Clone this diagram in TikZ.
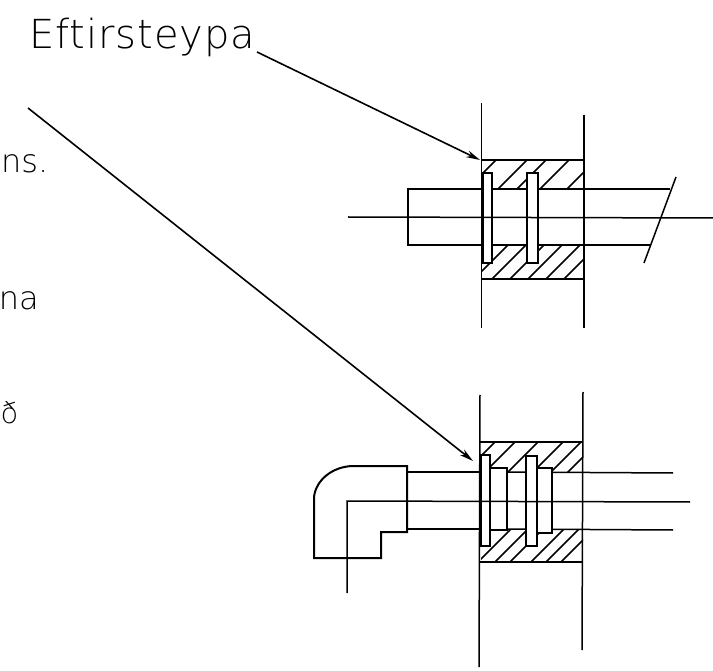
\documentclass[tikz,border=0pt]{standalone}
\usepackage{fontspec}
\usepackage{tikz}
\usetikzlibrary{arrows.meta}
\setsansfont{DejaVu Sans ExtraLight}

\tikzset{
	wall/.style={line width=1.5pt},
	pipe/.style={line width=1.5pt},
	hatch/.style={line width=1.5pt},
	ring/.style={line width=1.7pt, fill=white},
	leader/.style={line width=1.6pt, -{Stealth[length=14pt, width=7pt]}},
	lettering/.style={inner sep=0pt, font=\sffamily\fontsize{32}{32}\selectfont, text=black},
}

\begin{document}
\begin{tikzpicture}[x=1pt, y=-1pt]
	\useasboundingbox (0,0) rectangle (713,671);

	% labels
	\node [lettering, anchor=base west, font=\sffamily\fontsize{40}{40}\addfontfeatures{LetterSpace=2.4}\selectfont] (title) at (29,49) {Eftirsteypa};
	\node [lettering, anchor=base west] (textA) at (1,173) {ns.};
	\node [lettering, anchor=base east] (textB) at (39,310) {na};
	\node [lettering, anchor=base west, font=\sffamily\fontsize{29}{29}\selectfont] (textC) at (0.5,424) {ð};

	% upper wall
	\begin{scope}
		\coordinate (upperTip) at (480,160);
		\coordinate (upperStart) at (257,52);

		\begin{scope}
			\clip (482,160) rectangle (584,189);
			\foreach \s in {656,687,706,729,756}
			{
				\draw [hatch] (\s-140,140) -- (\s-190,190);
			}
		\end{scope}
		\begin{scope}
			\clip (482,245) rectangle (584,279);
			\foreach \s in {753,771,789,807,825,843}
			{
				\draw [hatch] (\s-240,240) -- (\s-285,285);
			}
		\end{scope}

		\draw [wall] (481.5,103) -- (481.5,328);
		\draw [wall] (584,115) -- (584,328);
		\draw [pipe] (481.5,160) -- (584,160);
		\draw [pipe] (481.5,279) -- (584,279);

		\draw [pipe] (670,189) -- (408,189) -- (408,245) -- (650,245);
		\draw [ring] (483,173) rectangle (492,263);
		\draw [ring] (527,173) rectangle (538,263);
		\draw [pipe] (348,217) -- (713,218);
		\draw [pipe] (676,177) -- (644,263);
		\draw [leader] (upperStart) -- (upperTip);
	\end{scope}

	% lower wall
	\begin{scope}
		\coordinate (lowerTip) at (473,461);
		\coordinate (lowerStart) at (28,108);

		\begin{scope}
			\clip (481,442) rectangle (583,472);
			\foreach \s in {937,957,980,1005,1023,1040}
			{
				\draw [hatch] (\s-430,430) -- (\s-480,480);
			}
		\end{scope}
		\begin{scope}
			\clip (481,529) rectangle (583,562);
			\foreach \s in {1040,1057,1072,1093,1108,1123}
			{
				\draw [hatch] (\s-520,520) -- (\s-570,570);
			}
		\end{scope}

		\draw [wall] (480,395) -- (479,667);
		\draw [wall] (583,392) -- (582,650);
		\draw [pipe] (480,442) -- (583,442);
		\draw [pipe] (480,562) -- (583,562);

		\draw [pipe] (407,472) -- (480,472);
		\draw [pipe] (407,529) -- (480,529);
		\draw [pipe] (507,472) -- (673,473);
		\draw [pipe] (507,529) -- (673,530);
		\draw [ring] (490,468) rectangle (507,530);
		\draw [ring] (537,468) rectangle (552,533);
		\draw [ring] (481,455) rectangle (490,546);
		\draw [ring] (526,456) rectangle (537,546);

		% elbow
		\draw [line width=2pt] (407,466) -- (352,466) .. controls (332,467) and (316,480) .. (314,497)
			-- (314,558) -- (381,558) -- (381,532) -- (407,532) -- cycle;
		\draw [pipe] (347,593) -- (347,501) -- (690,502);
		\draw [leader] (lowerStart) -- (lowerTip);
	\end{scope}
\end{tikzpicture}
\end{document}
